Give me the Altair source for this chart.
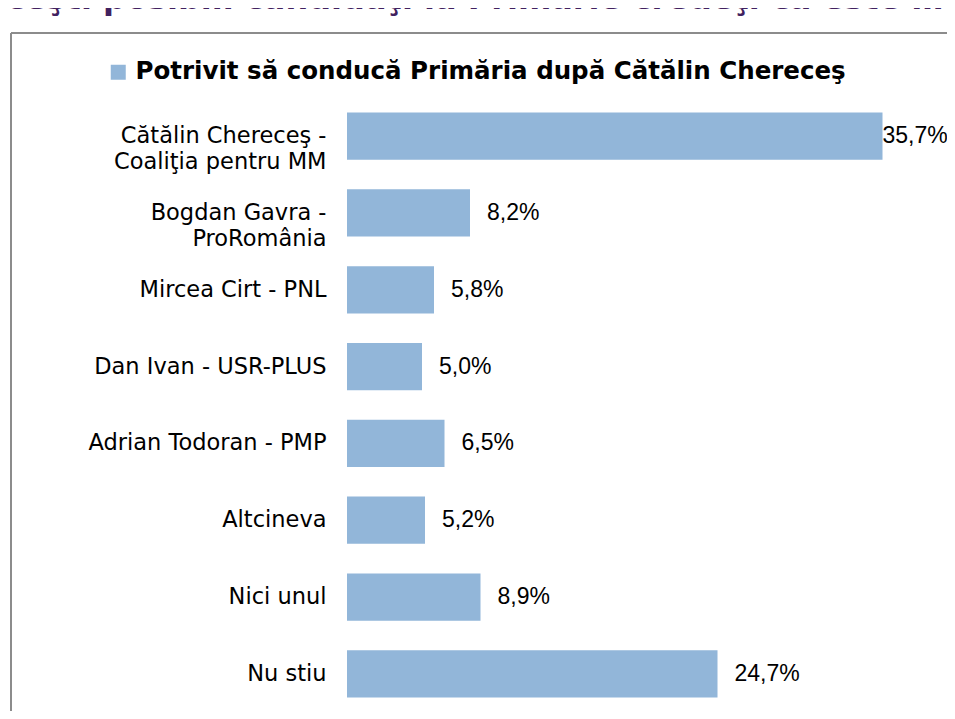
import altair as alt
import pandas as pd

categories = [
    "Cătălin Chereceş -\nCoaliţia pentru MM",
    "Bogdan Gavra -\nProRomânia",
    "Mircea Cirt - PNL",
    "Dan Ivan - USR-PLUS",
    "Adrian Todoran - PMP",
    "Altcineva",
    "Nici unul",
    "Nu stiu",
]
values = [35.7, 8.2, 5.8, 5.0, 6.5, 5.2, 8.9, 24.7]
series_name = "Potrivit să conducă Primăria după Cătălin Chereceş"
title_text = "Care dintre aceşti posibili candidaţi la Primărie credeţi că este cel mai potrivit"

df = pd.DataFrame({"cat": categories, "v": values, "series": [series_name] * len(values)})

FONT = "DejaVu Sans"
BAR = "#92B6D9"
W, H = 600, 612
PL, PT = 339, 91
SW, SH = 939, 703

y_axis = alt.Axis(
    title=None,
    domain=False,
    ticks=False,
    grid=False,
    labelPadding=21,
    labelFont=FONT,
    labelFontSize=22.5,
    labelColor="#000000",
    labelLimit=400,
    labelLineHeight=26,
    labelExpr="split(datum.label, '\\n')",
)
y_enc = alt.Y(
    "cat:N",
    sort=categories,
    scale=alt.Scale(paddingInner=0.385, paddingOuter=0.1755),
    axis=y_axis,
)
x_scale = alt.Scale(domain=[0, 40], nice=False, zero=True)

base = alt.Chart(df)

bars = base.mark_bar().encode(
    x=alt.X("v:Q", scale=x_scale, axis=None),
    y=y_enc,
    color=alt.Color(
        "series:N",
        scale=alt.Scale(range=[BAR]),
        legend=alt.Legend(
            title=None,
            orient="none",
            legendX=98 - PL,
            legendY=52 - PT,
            symbolType="square",
            symbolSize=225,
            symbolStrokeWidth=0,
            symbolOpacity=1,
            labelFont=FONT,
            labelFontSize=24.5,
            labelFontWeight="bold",
            labelColor="#000000",
            labelLimit=900,
            labelOffset=5,
            padding=0,
        ),
    ),
)

labels = base.transform_calculate(
    pos="min(datum.v + 1.13, 35.7)",
    lab="replace(format(datum.v, '.1f'), '.', ',') + '%'",
).mark_text(align="left", baseline="middle", font="Liberation Sans", fontSize=23, color="#000000").encode(
    x=alt.X("pos:Q", scale=x_scale, axis=None),
    y=y_enc,
    text="lab:N",
)

one = alt.Data(values=[{}])
frame_left = alt.Chart(one).mark_rule(color="#8c8c8c", strokeWidth=2).encode(
    x=alt.value(3 - PL),
    y=alt.value(25 - PT),
    y2=alt.value(SH + 12 - PT),
)
frame_top = alt.Chart(one).mark_rule(color="#8c8c8c", strokeWidth=2).encode(
    x=alt.value(3 - PL),
    x2=alt.value(SW + 10 - PL),
    y=alt.value(25 - PT),
)

title = alt.Chart(alt.Data(values=[{"t": title_text}])).mark_text(
    align="left", baseline="alphabetic", font=FONT, fontSize=32, fontWeight="bold",
    color="#41215F", limit=1185, ellipsis="",
).encode(
    x=alt.value(-238 - PL),
    y=alt.value(1 - PT),
    text="t:N",
)

chart = (
    alt.layer(frame_left, frame_top, title, bars, labels)
    .properties(
        width=W,
        height=H,
        autosize=alt.AutoSizeParams(type="none"),
        padding={"left": PL, "top": PT, "right": SW - PL - W, "bottom": SH - PT - H},
        background="#ffffff",
    )
    .configure_view(stroke=None)
)

chart.save("out.html", embed_options={"renderer": "svg", "actions": False})
